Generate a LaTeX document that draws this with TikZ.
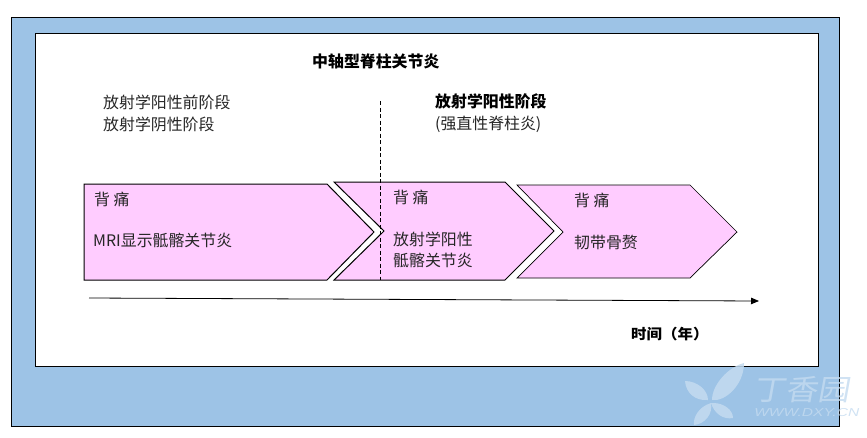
\documentclass[tikz,border=0pt]{standalone}
\usepackage{fontspec}
\setmainfont{Noto Sans CJK SC}
\setsansfont{Liberation Sans}
\usetikzlibrary{arrows.meta}
\definecolor{panelblue}{HTML}{9DC3E6}
\definecolor{chevron}{HTML}{FFCCFF}
\definecolor{wm}{HTML}{C4DBF0}
\tikzset{
  panel/.style={draw=black,line width=1pt},
  chev/.style={draw=black,line width=1pt,fill=chevron,line join=miter},
  lab/.style={anchor=west,inner sep=0pt,font=\fontsize{15.9}{18}\selectfont,text=black!85},
  boldlab/.style={lab,font=\fontsize{15.9}{18}\selectfont\bfseries,text=black},
  timelab/.style={lab,font=\fontsize{14.3}{17}\selectfont\bfseries,text=black,xscale=1.08},
  leaf/.style={fill=wm,draw=none,opacity=.85},
  wmtext/.style={inner sep=0pt,text=wm,opacity=.8}
}
\begin{document}
\begin{tikzpicture}[x=1pt,y=-1pt]
\useasboundingbox (0,0) rectangle (867,437);
\path[panel,fill=panelblue] (11.5,17.5) rectangle (839,426);
\path[panel,fill=white] (35.5,33.5) rectangle (818,366);
% chevrons
\path[chev] (84,184) -- (327,184) -- (374,232) -- (327,280) -- (84,280) -- cycle;
\path[chev] (334,182) -- (505,182) -- (554,231) -- (505,280) -- (334,280) -- (384,231) -- cycle;
\path[chev,line width=.7pt] (517,185) -- (690,185) -- (737,232) -- (690,278) -- (517,278) -- (563,232) -- cycle;
% dashed divider
\coordinate (dashtop) at (380,101);
\coordinate (dashbot) at (380,280);
\draw[dashed,line width=.7pt,dash pattern=on 4pt off 2.5pt] (dashtop) -- (dashbot);
% time axis
\coordinate (axisstart) at (89,298);
\coordinate (axisend) at (759,301);
\draw[line width=.8pt,-{Triangle[length=8pt,width=6.5pt]}] (axisstart) -- (axisend);
% texts
\node[boldlab] (title) at (312,61.5) {中轴型脊柱关节炎};
\node[lab] (pre) at (103,102.5) {放射学阳性前阶段};
\node[lab] (neg) at (103,124.5) {放射学阴性阶段};
\node[boldlab] (pos) at (435,101.5) {放射学阳性阶段};
\node[lab] (as) at (435,124.5) {(强直性脊柱炎)};
\node[lab] (p1) at (94,199) {背 痛};
\node[lab] (m1) at (93,240.5) {MRI显示骶髂关节炎};
\node[lab] (p2) at (393,197) {背 痛};
\node[lab] (r2) at (393,239) {放射学阳性};
\node[lab] (s2) at (393,260) {骶髂关节炎};
\node[lab] (p3) at (574,200) {背 痛};
\node[lab] (e3) at (574,242) {韧带骨赘};
\node[timelab] (time) at (631,334.5) {时间（年）};
% watermark
\path[leaf] (685,381) .. controls (697,381) and (708,390) .. (708,400) .. controls (695,401) and (686,393) .. (685,381) -- cycle;
\path[leaf] (744,363) .. controls (728,367) and (712,385) .. (712,400) .. controls (725,402) and (744,385) .. (744,363) -- cycle;
\path[leaf] (711,403) .. controls (698,407) and (693,418) .. (694,425) .. controls (705,424) and (713,414) .. (711,403) -- cycle;
\path[leaf] (713,403) .. controls (724,403) and (733,410) .. (733,418) .. controls (723,420) and (714,413) .. (711,403) -- cycle;
\node[wmtext,anchor=west,font=\fontsize{29}{32}\selectfont,xslant=.18,xscale=1.1] (wmcn) at (755,390) {丁香园};
\node[wmtext,anchor=west,font=\sffamily\itshape\fontsize{11.5}{13}\selectfont,xscale=1.35] (wmen) at (754,413) {WWW.DXY.CN};
\end{tikzpicture}
\end{document}
